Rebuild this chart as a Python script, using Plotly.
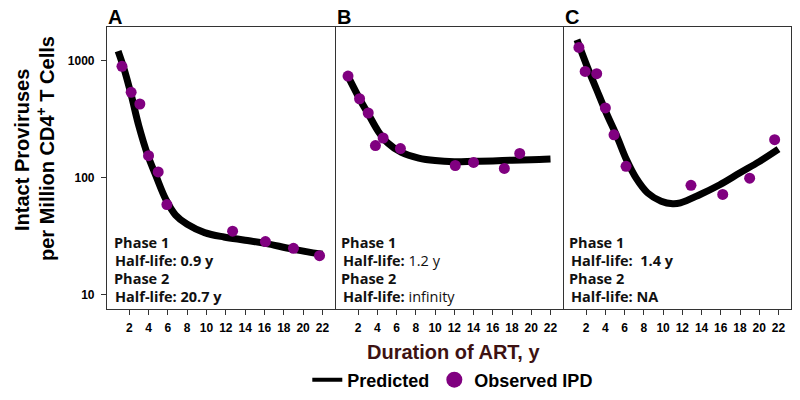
import plotly.graph_objects as go

# ---------------- data ----------------
panels = ["A", "B", "C"]

# Observed IPD (years on ART, intact proviruses per million CD4+ T cells)
obs_a_x = [1.25, 2.2, 3.1, 4.0, 5.0, 5.9, 12.7, 16.1, 19.0, 21.7]
obs_a_y = [890, 535, 425, 154, 112, 59, 35, 28.5, 25, 21.6]
obs_b_x = [0.95, 2.15, 3.05, 3.8, 4.6, 6.4, 12.1, 14.0, 17.2, 18.8]
obs_b_y = [736, 471, 356, 188, 218, 177, 127, 135, 120, 161]
obs_c_x = [1.25, 1.9, 3.1, 4.0, 4.9, 6.15, 12.9, 16.2, 19.0, 21.6]
obs_c_y = [1290, 805, 770, 393, 232, 125, 86, 72, 99, 211]

# Predicted curves
pred_a_x = [0.85, 1.5, 2.2, 3.0, 3.9, 4.8, 5.8, 6.8, 8.0, 9.8, 11.8, 14.0, 16.1, 18.9, 22.0]
pred_a_y = [1200, 830, 510, 275, 157, 102, 65, 48, 40, 34, 31.2, 29.3, 27.5, 24.6, 22.2]
pred_b_x = [0.95, 2.2, 3.1, 4.1, 5.1, 6.5, 8.3, 10.0, 12.0, 14.0, 16.0, 18.0, 20.0, 22.0]
pred_b_y = [730, 462, 344, 248, 197, 164, 147, 140, 137, 138, 139, 141, 142, 144]
pred_c_x = [1.05, 2.1, 3.1, 4.1, 5.2, 6.2, 7.2, 8.4, 9.8, 11.0, 11.8, 13.8, 15.9, 18.0, 20.0, 22.0]
pred_c_y = [1500, 890, 562, 356, 225, 142, 99, 74, 63, 60, 61, 71.5, 87, 110, 137, 175]

phase_text = [
    ["<b>Phase 1</b>", "<b>Half-life: 0.9 y</b>", "<b>Phase 2</b>", "<b>Half-life: 20.7 y</b>"],
    ["<b>Phase 1</b>", "<b>Half-life:</b> 1.2 y", "<b>Phase 2</b>", "<b>Half-life:</b> infinity"],
    ["<b>Phase 1</b>", "<b>Half-life:  1.4 y</b>", "<b>Phase 2</b>", "<b>Half-life: NA</b>"],
]

y_tickvals = [10, 100, 1000]
y_ticktext = ["10", "100", "1000"]
x_tickvals = [2, 4, 6, 8, 10, 12, 14, 16, 18, 20, 22]

obs_x = [obs_a_x, obs_b_x, obs_c_x]
obs_y = [obs_a_y, obs_b_y, obs_c_y]
pred_x = [pred_a_x, pred_b_x, pred_c_x]
pred_y = [pred_a_y, pred_b_y, pred_c_y]

# ---------------- layout geometry ----------------
W, H = 800, 400
px_left = [107, 336, 564]
px_right = [335, 563, 791]
py_top, py_bottom = 27, 309

LINE_COL = "#000000"
DOT_COL = "#800080"
FRAME = "#333333"
ARIAL = "Liberation Sans, Arial, sans-serif"

fig = go.Figure()

for i in range(3):
    xa = "x" if i == 0 else f"x{i+1}"
    ya = "y" if i == 0 else f"y{i+1}"
    fig.add_trace(go.Scatter(
        x=pred_x[i], y=pred_y[i], mode="lines", xaxis=xa, yaxis=ya,
        line=dict(color=LINE_COL, width=7, shape="spline", smoothing=1.0),
        showlegend=False, hoverinfo="skip"))
    fig.add_trace(go.Scatter(
        x=obs_x[i], y=obs_y[i], mode="markers", xaxis=xa, yaxis=ya,
        marker=dict(color=DOT_COL, size=11, line=dict(width=0)),
        showlegend=False))

# legend entries
fig.add_trace(go.Scatter(x=[None], y=[None], mode="lines", name="<b>Predicted</b>",
                         line=dict(color=LINE_COL, width=4)))
fig.add_trace(go.Scatter(x=[None], y=[None], mode="markers", name="<b>Observed IPD</b>",
                         marker=dict(color=DOT_COL, size=16)))

layout = dict(
    width=W, height=H,
    margin=dict(l=0, r=0, t=0, b=0),
    paper_bgcolor="white", plot_bgcolor="white",
    font=dict(family=ARIAL, color="#000000"),
    showlegend=True,
    legend=dict(orientation="h", x=0.566, xanchor="center", y=0.05, yanchor="middle",
                font=dict(size=18, family=ARIAL, color="#000"),
                bgcolor="rgba(0,0,0,0)", itemwidth=30, tracegroupgap=0),
)

ydom = [1 - py_bottom / H, 1 - py_top / H]
for i in range(3):
    xk = "xaxis" if i == 0 else f"xaxis{i+1}"
    yk = "yaxis" if i == 0 else f"yaxis{i+1}"
    layout[xk] = dict(
        domain=[px_left[i] / W, px_right[i] / W],
        range=[-0.3, 23.3], anchor="y" if i == 0 else f"y{i+1}",
        tickvals=x_tickvals, ticktext=[f"<b>{v}</b>" for v in x_tickvals],
        ticks="outside", ticklen=5, tickwidth=1, tickcolor=FRAME,
        ticklabelstandoff=2,
        tickfont=dict(size=12, family=ARIAL, color="#000"),
        showline=True, linecolor=FRAME, linewidth=1.2, mirror=True,
        showgrid=False, zeroline=False, fixedrange=True,
    )
    layout[yk] = dict(
        domain=ydom, type="log", range=[0.88, 3.285],
        anchor="x" if i == 0 else f"x{i+1}",
        tickvals=y_tickvals, ticktext=[f"<b>{t}</b>" for t in y_ticktext],
        showticklabels=(i == 0), ticks="outside" if i == 0 else "",
        ticklen=5, tickwidth=1, tickcolor=FRAME, ticklabelstandoff=4,
        tickfont=dict(size=12, family=ARIAL, color="#000"),
        showline=True, linecolor=FRAME, linewidth=1.2, mirror=True,
        showgrid=False, zeroline=False, fixedrange=True,
    )

annotations = []
# panel letters
for i, p in enumerate(panels):
    annotations.append(dict(
        text=f"<b>{p}</b>", x=(px_left[i] - 1) / W, y=1 - 17 / H, xref="paper", yref="paper",
        xanchor="left", yanchor="middle", showarrow=False,
        font=dict(size=20, family=ARIAL, color="#000")))

# phase annotations
text_x = [[112, 113, 112, 113], [339, 341, 339, 341], [567, 569, 567, 569]]
text_y = [242, 260, 278, 296]
for i in range(3):
    for j in range(4):
        annotations.append(dict(
            text=phase_text[i][j], x=text_x[i][j] / W, y=1 - text_y[j] / H,
            xref="paper", yref="paper", xanchor="left", yanchor="middle", showarrow=False,
            font=dict(size=14.5, family="Open Sans, Noto Sans, sans-serif", color="#111")))

# axis titles
annotations.append(dict(
    text="<b>Intact Proviruses</b>", x=22 / W, y=1 - 150 / H, xref="paper", yref="paper",
    xanchor="center", yanchor="middle", textangle=-90, showarrow=False,
    font=dict(size=20, family=ARIAL, color="#000")))
annotations.append(dict(
    text="<b>per Million CD4<sup>+</sup> T Cells</b>", x=45 / W, y=1 - 149 / H,
    xref="paper", yref="paper",
    xanchor="center", yanchor="middle", textangle=-90, showarrow=False,
    font=dict(size=20, family=ARIAL, color="#000")))
annotations.append(dict(
    text="<b>Duration of ART, y</b>", x=453 / W, y=1 - 352 / H, xref="paper", yref="paper",
    xanchor="center", yanchor="middle", showarrow=False,
    font=dict(size=20, family=ARIAL, color="#3d1212")))

layout["annotations"] = annotations
fig.update_layout(**layout)

fig.write_html("out.html", config={"displayModeBar": False},
               post_script="document.body.style.margin='0';document.body.style.padding='0';")
